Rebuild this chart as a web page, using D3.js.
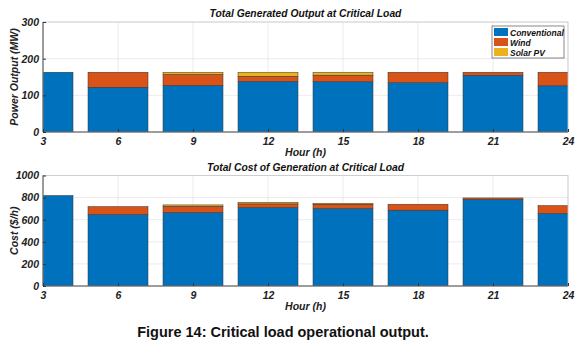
<!DOCTYPE html>
<html><head><meta charset="utf-8">
<script src="https://cdn.jsdelivr.net/npm/d3@7"></script>
<style>
body{margin:0;background:#fff;}
text{font-family:"Liberation Sans",Arial,sans-serif;}
</style></head>
<body><svg id="c" width="588" height="347"></svg>
<script>
const hours = [3,6,9,12,15,18,21,24];
const seriesNames = ["Conventional","Wind","Solar PV"];
const colors = ["#0072BD","#D95319","#EDB120"];
const powerConv = [163,122,127,138,137,134.5,154.5,126];
const powerWind = [0,41,30,14,18,28.5,8.5,37];
const powerSolar = [0,0,6,11,8,0,0,0];
const costConv = [819,647,665,710,701,686,783,656];
const costWind = [0,72,57,33,39,54,14,72];
const costSolar = [0,0,12,15,9,0,0,0];
const powerTicks = [0,100,200,300];
const costTicks = [0,200,400,600,800,1000];
const xTicks = [3,6,9,12,15,18,21,24];

const svg = d3.select("#c");
const L = 43, R = 568;

function panel(opts){
  const {top, bottom, conv, wind, solar, yMax, yTicks, title, ylabel, legend, id} = opts;
  const x = d3.scaleLinear().domain([3,24]).range([L,R]);
  const y = d3.scaleLinear().domain([0,yMax]).range([bottom, top]);
  const g = svg.append("g");
  g.append("rect").attr("x",L).attr("y",top).attr("width",R-L).attr("height",bottom-top).attr("fill","#fff");
  g.selectAll(".gx").data(xTicks).join("line").attr("x1",d=>x(d)).attr("x2",d=>x(d))
    .attr("y1",top).attr("y2",bottom).attr("stroke","#e6e6e6").attr("stroke-width",0.8);
  g.selectAll(".gy").data(yTicks).join("line").attr("y1",d=>y(d)).attr("y2",d=>y(d))
    .attr("x1",L).attr("x2",R).attr("stroke","#e6e6e6").attr("stroke-width",0.8);
  svg.append("defs").append("clipPath").attr("id",id).append("rect")
    .attr("x",L).attr("y",top).attr("width",R-L).attr("height",bottom-top);
  const data = hours.map((h,i)=>({h, Conventional:conv[i], Wind:wind[i], "Solar PV":solar[i]}));
  const stack = d3.stack().keys(seriesNames)(data);
  const bw = (x(6)-x(3))*0.8;
  const bars = g.append("g").attr("clip-path",`url(#${id})`);
  stack.forEach((s,k)=>{
    bars.selectAll(null).data(s).join("rect")
      .attr("x",d=>x(d.data.h)-bw/2).attr("width",bw)
      .attr("y",d=>y(d[1])).attr("height",d=>Math.max(0,y(d[0])-y(d[1])))
      .attr("fill",colors[k]).attr("stroke",d=>d[1]-d[0]>0?"#333":"none").attr("stroke-width",0.5);
  });
  g.append("rect").attr("x",L).attr("y",top).attr("width",R-L).attr("height",bottom-top)
    .attr("fill","none").attr("stroke","#c8c8c8").attr("stroke-width",0.8);
  g.append("line").attr("x1",L).attr("x2",R).attr("y1",bottom).attr("y2",bottom).attr("stroke","#333").attr("stroke-width",0.8);
  g.append("line").attr("x1",L).attr("x2",L).attr("y1",top).attr("y2",bottom).attr("stroke","#333").attr("stroke-width",0.8);
  const xa = g.append("g").attr("transform",`translate(0,${bottom})`)
    .call(d3.axisBottom(x).tickValues(xTicks).tickFormat(d3.format("d")).tickSize(-3).tickPadding(6));
  xa.select(".domain").remove();
  xa.selectAll("line").attr("stroke","#333");
  xa.selectAll("text").attr("font-size",10.5).attr("font-style","italic").attr("font-weight","bold").attr("fill","#222");
  const ya = g.append("g").attr("transform",`translate(${L},0)`)
    .call(d3.axisLeft(y).tickValues(yTicks).tickFormat(d3.format("d")).tickSize(-3).tickPadding(4));
  ya.select(".domain").remove();
  ya.selectAll("line").attr("stroke","#333");
  ya.selectAll("text").attr("font-size",10.5).attr("font-style","italic").attr("font-weight","bold").attr("fill","#222");
  g.append("text").attr("x",(L+R)/2).attr("y",top-5).attr("text-anchor","middle")
    .attr("font-size",10.3).attr("font-style","italic").attr("font-weight","bold").attr("fill","#111").text(title);
  g.append("text").attr("x",(L+R)/2).attr("y",bottom+24).attr("text-anchor","middle")
    .attr("font-size",10.5).attr("font-style","italic").attr("font-weight","bold").attr("fill","#222").text("Hour (h)");
  g.append("text").attr("transform",`translate(${L-25},${(top+bottom)/2}) rotate(-90)`).attr("text-anchor","middle")
    .attr("font-size",10.5).attr("font-style","italic").attr("font-weight","bold").attr("fill","#222").text(ylabel);
  if(legend){
    const lx=492, ly=26, lw=72, lh=32;
    const lg = g.append("g");
    lg.append("rect").attr("x",lx).attr("y",ly).attr("width",lw).attr("height",lh).attr("fill","#fff").attr("stroke","#555").attr("stroke-width",0.7);
    seriesNames.forEach((n,i)=>{
      lg.append("rect").attr("x",lx+2).attr("y",ly+2+i*10).attr("width",14).attr("height",8).attr("fill",colors[i]);
      lg.append("text").attr("x",lx+18).attr("y",ly+9.5+i*10).attr("font-size",8.5).attr("font-style","italic")
        .attr("font-weight","bold").attr("fill","#111").text(n);
    });
  }
}

panel({id:"cp1", top:22, bottom:132, conv:powerConv, wind:powerWind, solar:powerSolar, yMax:300, yTicks:powerTicks,
  title:"Total Generated Output at Critical Load", ylabel:"Power Output (MW)", legend:true});
panel({id:"cp2", top:175.5, bottom:286, conv:costConv, wind:costWind, solar:costSolar, yMax:1000, yTicks:costTicks,
  title:"Total Cost of Generation at Critical Load", ylabel:"Cost ($/h)", legend:false});

svg.append("text").attr("x",283).attr("y",337).attr("text-anchor","middle").attr("font-size",14.5)
  .attr("font-weight","bold").attr("fill","#111").text("Figure 14: Critical load operational output.");
</script></body></html>
